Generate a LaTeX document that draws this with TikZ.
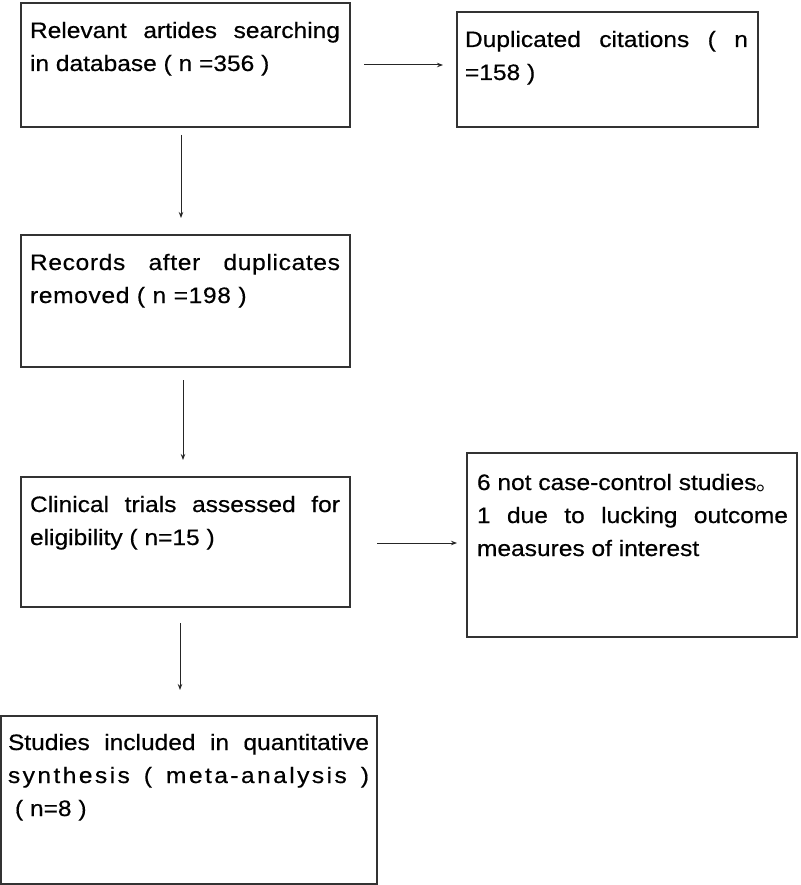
\documentclass[tikz,border=0pt]{standalone}
\usepackage{fontspec}
\setmainfont[FakeStretch=1.1,FakeBold=0.5]{Liberation Sans}
\newfontfamily\cjkfont{Noto Sans CJK SC}
\usetikzlibrary{arrows.meta,calc}
\newcommand\jl[1]{\makebox[\linewidth][s]{#1}}
\newcommand\boxtext[6]{\begin{minipage}[t][#2pt][t]{#1pt}\fontsize{22.3pt}{33pt}\selectfont\hspace*{#4pt}\parbox[t]{#5pt}{\rule{0pt}{#3pt}#6}\end{minipage}}
\tikzset{
  flowbox/.style={draw=black!80, line width=1.2pt, inner sep=0pt, outer sep=0pt, anchor=north west, fill=white},
  arr/.style={draw=black!85, line width=1pt, -{Stealth[length=6pt,width=4.5pt]}}
}
\begin{document}
\begin{tikzpicture}[x=1pt,y=-1pt]
\useasboundingbox[fill=white] (0,0) rectangle (800,885);
\node[flowbox] (b1) at (21,3) {\boxtext{329}{124}{35}{9}{310}{\jl{Relevant artides searching}\\in database ( n =356 )}};
\node[flowbox] (b2) at (457,12) {\boxtext{301}{115}{35}{8}{283}{\jl{Duplicated citations ( n}\\=158 )}};
\node[flowbox] (b3) at (21,235) {\boxtext{329}{132}{35}{9}{310}{\addfontfeature{LetterSpace=3}\jl{Records after duplicates}\\removed ( n =198 )}};
\node[flowbox] (b4) at (21,477) {\boxtext{329}{130}{35}{9}{310}{\jl{Clinical trials assessed for}\\eligibility ( n=15 )}};
\node[flowbox] (b5) at (467,453) {\boxtext{330}{184}{37}{10}{311}{6 not case-control studies{\cjkfont 。}\\\jl{1 due to lucking outcome}\\measures of interest}};
\node[flowbox] (b6) at (1,716) {\boxtext{376}{168}{34}{7}{361}{\jl{Studies included in quantitative}\\{\addfontfeature{LetterSpace=11}\jl{synthesis ( meta-analysis )}}\\\hspace*{7pt}( n=8 )}};
\draw[arr] ($(b1.east)+(14,0)$) -- ($(b1.east -| b2.west)+(-14,0)$);
\draw[arr] ($(b1.south)+(-4.5,8)$) -- ($(b1.south |- b3.north)+(-4.5,-17)$);
\draw[arr] ($(b3.south)+(-2.5,13)$) -- ($(b3.south |- b4.north)+(-2.5,-17)$);
\draw[arr] ($(b4.east)+(27,1)$) -- ($(b4.east -| b5.west)+(-10,1)$);
\draw[arr] ($(b4.south)+(-5.5,16)$) -- ($(b4.south |- b6.north)+(-5.5,-26)$);
\end{tikzpicture}
\end{document}
